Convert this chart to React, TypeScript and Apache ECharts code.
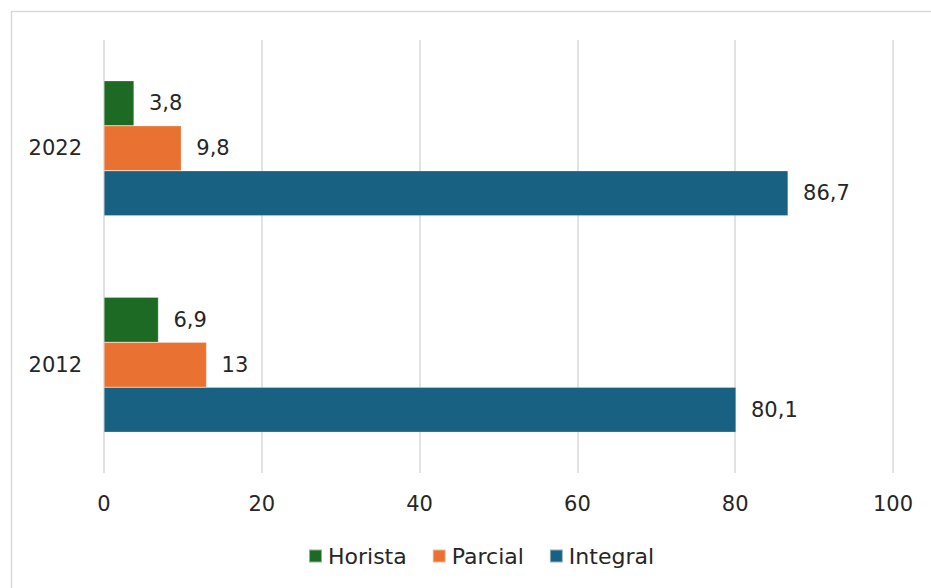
import React, { useEffect, useRef } from "react";
import * as echarts from "echarts";

const categories = ["2012", "2022"];
const seriesNames = ["Horista", "Parcial", "Integral"];
const horista = [6.9, 3.8];
const parcial = [13, 9.8];
const integral = [80.1, 86.7];
const xTicks = [0, 20, 40, 60, 80, 100];
const colors = ["#1c6a24", "#e97232", "#186182"];

const FONT = "DejaVu Sans";
const FS = 21;

export default function App() {
  const ref = useRef<HTMLDivElement>(null);
  useEffect(() => {
    if (!ref.current) return;
    const chart = echarts.init(ref.current, undefined, { renderer: "svg" });
    const values = [horista, parcial, integral];
    const fmt = (v: number) => String(v).replace(".", ",");
    chart.setOption({
      animation: false,
      textStyle: { fontFamily: FONT },
      graphic: [
        {
          type: "rect",
          shape: { x: 11.5, y: 11.5, width: 960, height: 640 },
          style: { fill: "none", stroke: "#d9d9d9", lineWidth: 1.5 },
          silent: true,
          z: -1,
        },
      ],
      grid: { left: 104, right: 38, top: 40, bottom: 115, containLabel: false },
      legend: {
        data: seriesNames,
        bottom: 16,
        left: 303,
        itemWidth: 13,
        itemHeight: 13,
        itemGap: 25,
        icon: "rect",
        textStyle: { fontFamily: FONT, fontSize: 22, color: "#262626", padding: [0, 0, 0, 1] },
      },
      xAxis: {
        type: "value",
        min: xTicks[0],
        max: xTicks[xTicks.length - 1],
        interval: 20,
        axisLine: { show: false },
        axisTick: { show: false },
        splitLine: { show: true, lineStyle: { color: "#d9d9d9", width: 1.5 } },
        axisLabel: { fontFamily: FONT, fontSize: FS, color: "#262626", margin: 20 },
      },
      yAxis: {
        type: "category",
        data: categories,
        axisLine: { show: false },
        axisTick: { show: false },
        axisLabel: { fontFamily: FONT, fontSize: FS, color: "#262626", margin: 22 },
      },
      series: seriesNames.map((name, i) => ({
        name,
        type: "bar",
        data: values[i],
        barWidth: 45,
        barGap: "0%",
        itemStyle: { color: colors[i], borderColor: "rgba(255,255,255,0.5)", borderWidth: 0.5 },
        label: {
          show: true,
          position: "right",
          distance: 15,
          fontFamily: FONT,
          fontSize: FS,
          color: "#262626",
          formatter: (p: any) => fmt(p.value),
        },
      })),
    });
    return () => chart.dispose();
  }, []);
  return (
    <div
      ref={ref}
      style={{ position: "fixed", left: 0, top: 0, width: 931, height: 588, background: "#fff" }}
    />
  );
}
